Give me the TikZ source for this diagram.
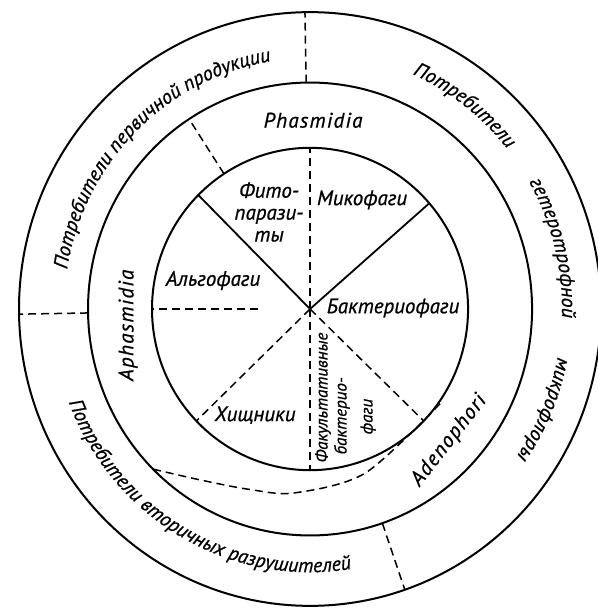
\documentclass[tikz,border=0pt]{standalone}
\usepackage{fontspec}
\setmainfont{PT Sans}
\newfontfamily\handfont{PT Sans}[FakeBold=0.8]
\usetikzlibrary{decorations.text}

\begin{document}
\begin{tikzpicture}[x=1pt,y=1.02pt,
  ring/.style={line width=2pt},
  spoke/.style={line width=1.8pt},
  split/.style={line width=1.5pt,dash pattern=on 8pt off 5pt},
  lab/.style={font=\handfont\itshape\fontsize{21}{22}\selectfont,inner sep=0pt},
  latlab/.style={lab,font=\handfont\itshape\fontsize{21}{22}\selectfont\addfontfeature{LetterSpace=6}},
  arclab/.style={decorate,decoration={text along path,text align=center,
    text={|\handfont\itshape\fontsize{20}{22}\selectfont|#1}}}]
\useasboundingbox (-310,-293.1) rectangle (287,302.9);
\coordinate (c) at (0,0);
% three rings
\draw[ring] (c) circle[radius=158];
\draw[ring] (c) circle[radius=222];
\draw[ring] (c) circle[radius=291];
% inner circle
\draw[spoke] (c) -- (135:158);
\draw[spoke] (c) -- (41:158);
\draw[split] (c) -- (90:158);
\draw[split] (c) -- (270:158);
\draw[split] (c) -- (224:158);
\draw[split] (c) -- (-44:158);
\draw[split] (-52,0) -- (180:158);
% middle and outer rings
\draw[split] (123:158) -- (123:222);
\draw[split] (91:222) -- (91:291);
\draw[split] (181:222) -- (181:291);
\draw[split] (-71:222) -- (-71:291);
\draw[split] plot[smooth] coordinates {(225:222) (237:200) (251:187) (265:181) (289:170) (325:160)};

\node[latlab] (phas) at (3,185) {Phasmidia};
\node[latlab,rotate=90] (aphas) at (-182,-16) {Aphasmidia};
\node[latlab,rotate=52] (adeno) at (139,-129) {Adenophori};

\node[lab,align=center] (fito) at (-41,95) {Фито-\\парази-\\ты};
\node[lab] (miko) at (52,107) {Микофаги};
\node[lab] (algo) at (-97,28) {Альгофаги};
\node[lab] (bakt) at (83,1) {Бактериофаги};
\node[lab] (hish) at (-55,-104) {Хищники};
\node[lab,font=\handfont\itshape\fontsize{17}{19}\selectfont,rotate=90,align=left] (fakt) at (35.5,-86.8)
  {Факультативные\\\hspace*{8pt}бактерио-\\[7pt]\hspace*{28pt}фаги};

\path[arclab={Потребители первичной продукции}] (175:246) arc[start angle=175,end angle=95,radius=246];
\path[decorate,decoration={text along path,text align=fit to path stretching spaces,
  text={|\handfont\itshape\fontsize{20}{22}\selectfont|Потребители гетеротрофной микрофлоры}}]
  (66:252) arc[start angle=66,end angle=-35,radius=252];
\path[arclab={Потребители вторичных разрушителей}] (200:258) arc[start angle=200,end angle=280,radius=258];
\end{tikzpicture}
\end{document}
